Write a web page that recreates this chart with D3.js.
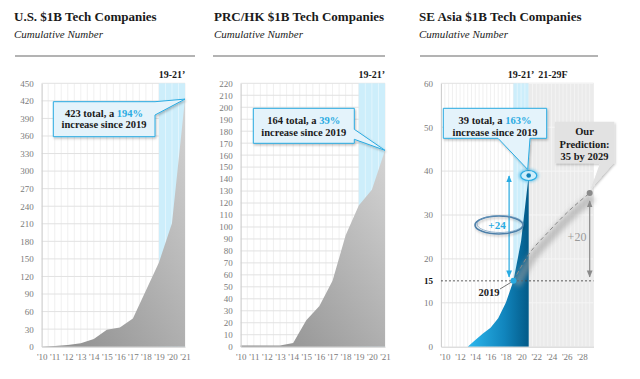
<!DOCTYPE html>
<html><head><meta charset="utf-8">
<script src="https://cdn.jsdelivr.net/npm/d3@7"></script>
<style>
html,body{margin:0;padding:0;background:#fff;}
text{font-family:"Liberation Serif","Times New Roman",serif;}
</style></head>
<body>
<svg id="c" width="640" height="379"></svg>
<script>
// ---------------- DATA ----------------
const years = [2010,2011,2012,2013,2014,2015,2016,2017,2018,2019,2020,2021];
const usValues  = [0,1,3,6,13,29,33,48,96,144,211,423];
const prcValues = [1,1,1,1,3,22,34,55,93,118,131,164];
const seaYears  = [2013,2014,2015,2016,2017,2018,2019,2020,2021];
const seaValues = [0,1.5,3,4.3,6.5,10,15,24,39];
const forecastYears  = [2019,2021,2023.5,2026,2029];
const forecastValues = [15,21,26,30.5,35];
const usTicks  = [0,30,60,90,120,150,180,210,240,270,300,330,360,390,420,450];
const prcTicks = [0,10,20,30,40,50,60,70,80,90,100,110,120,130,140,150,160,170,180,190,200,210,220];
const seaTicks = [0,10,20,30,40,50,60];
const seaXTicks = [2010,2012,2014,2016,2018,2020,2022,2024,2026,2028];
const titles = ["U.S. $1B Tech Companies","PRC/HK $1B Tech Companies","SE Asia $1B Tech Companies"];
const subtitle = "Cumulative Number";
const callouts = [
  {total:"423 total, a ", pct:"194%", line2:"increase since 2019"},
  {total:"164 total, a ", pct:"39%",  line2:"increase since 2019"},
  {total:"39 total, a ",  pct:"163%", line2:"increase since 2019"}
];
const prediction = ["Our","Prediction:","35 by 2029"];
const bandLabel = "19-21\u2019";
const forecastLabel = "21-29F";

// ---------------- SETUP ----------------
const svg = d3.select("#c");
const defs = svg.append("defs");
const BLUE = "#29abe2";

const gGray = defs.append("linearGradient").attr("id","gGray").attr("x1",0).attr("y1",1).attr("x2",1).attr("y2",0);
gGray.append("stop").attr("offset","0%").attr("stop-color","#8a8a8a");
gGray.append("stop").attr("offset","100%").attr("stop-color","#d4d4d4");
const gBlue = defs.append("linearGradient").attr("id","gBlue").attr("x1",0).attr("y1",0).attr("x2",1).attr("y2",0);
gBlue.append("stop").attr("offset","0%").attr("stop-color","#2cb8ee");
gBlue.append("stop").attr("offset","60%").attr("stop-color","#1185bd");
gBlue.append("stop").attr("offset","100%").attr("stop-color","#035a88");
const sh = defs.append("filter").attr("id","shadow").attr("x","-20%").attr("y","-20%").attr("width","140%").attr("height","160%");
sh.append("feDropShadow").attr("dx",1).attr("dy",1.5).attr("stdDeviation",1.2).attr("flood-color","#000").attr("flood-opacity",0.25);
const bl = defs.append("filter").attr("id","blur").attr("x","-50%").attr("y","-50%").attr("width","200%").attr("height","200%");
bl.append("feGaussianBlur").attr("stdDeviation",2.5);
const bl2 = defs.append("filter").attr("id","glow").attr("x","-80%").attr("y","-80%").attr("width","260%").attr("height","260%");
bl2.append("feGaussianBlur").attr("stdDeviation",1.5);

function marker(id,color){
  defs.append("marker").attr("id",id).attr("viewBox","0 0 10 10").attr("refX",9).attr("refY",5)
    .attr("markerWidth",6).attr("markerHeight",6).attr("orient","auto-start-reverse")
    .append("path").attr("d","M0,1 L10,5 L0,9 Z").attr("fill",color);
}
marker("arB",BLUE); marker("arG","#8a8a8a");

const TOP=83.3, BOT=346.7;

function header(x, lineX0, lineX1, title){
  svg.append("text").attr("x",x).attr("y",21).attr("font-size",13).attr("font-weight","bold").attr("fill","#1a1a1a").text(title);
  svg.append("text").attr("x",x).attr("y",38).attr("font-size",11).attr("font-style","italic").attr("fill","#222").text(subtitle);
  svg.append("line").attr("x1",lineX0).attr("x2",lineX1).attr("y1",56).attr("y2",56).attr("stroke","#9a9a9a").attr("stroke-width",1.5);
}

function grid(g, x, y, xDomain, yTicks, step){
  const [a,b] = xDomain;
  const vx = d3.range(Math.ceil(a/step)*step, b+1e-9, step);
  g.append("g").selectAll("line").data(vx).join("line")
    .attr("x1",d=>x(d)).attr("x2",d=>x(d)).attr("y1",y.range()[1]).attr("y2",y.range()[0])
    .attr("stroke","#ececec").attr("stroke-width",0.8);
  g.append("g").selectAll("line").data(yTicks).join("line")
    .attr("x1",x.range()[0]).attr("x2",x.range()[1]).attr("y1",d=>y(d)).attr("y2",d=>y(d))
    .attr("stroke","#e2e2e2").attr("stroke-width",1);
  return vx;
}
function bandRect(g,x,y,x0,x1,fill,step){
  g.append("rect").attr("x",x(x0)).attr("y",y.range()[1]).attr("width",x(x1)-x(x0)).attr("height",y.range()[0]-y.range()[1]).attr("fill",fill);
  const vx = d3.range(x0+step, x1-1e-9, step);
  g.append("g").selectAll("line").data(vx).join("line")
    .attr("x1",d=>x(d)).attr("x2",d=>x(d)).attr("y1",y.range()[1]).attr("y2",y.range()[0])
    .attr("stroke","#fff").attr("stroke-opacity",0.55).attr("stroke-width",0.8);
}
function yAxis(g,x,y,ticks){
  const ax = d3.axisLeft(y).tickValues(ticks).tickSize(0).tickPadding(8);
  const a = g.append("g").attr("transform",`translate(${x.range()[0]},0)`).call(ax);
  a.attr("font-family",null);
  a.select(".domain").attr("stroke","#cfcfcf");
  a.selectAll("text").attr("font-size",9).attr("fill","#7a7a7a");
  return a;
}
function xAxis(g,x,y,ticks){
  const ax = d3.axisBottom(x).tickValues(ticks).tickSize(0).tickPadding(7).tickFormat(d=>"'"+String(d).slice(2));
  const a = g.append("g").attr("transform",`translate(0,${y.range()[0]})`).call(ax);
  a.attr("font-family",null);
  a.select(".domain").attr("stroke","#cfcfcf");
  a.selectAll("text").attr("font-size",9).attr("fill","#7a7a7a");
}
function calloutText(g,cx,y1,y2,c){
  const t = g.append("text").attr("x",cx).attr("y",y1).attr("text-anchor","middle").attr("font-size",10.5).attr("font-weight","bold").attr("fill","#1a1a1a");
  t.append("tspan").text(c.total);
  t.append("tspan").attr("fill",BLUE).text(c.pct);
  g.append("text").attr("x",cx).attr("y",y2).attr("text-anchor","middle").attr("font-size",10.5).attr("font-weight","bold").attr("fill","#1a1a1a").text(c.line2);
}
const areaGen = (x,y)=>d3.area().x(d=>x(d[0])).y0(BOT).y1(d=>y(d[1])).curve(d3.curveLinear);

// ---------------- PANEL 1: US ----------------
{
  header(14,15,195,titles[0]);
  const g = svg.append("g");
  const x = d3.scaleLinear().domain([2010,2021]).range([41.7,185]);
  const y = d3.scaleLinear().domain([0,450]).range([BOT,TOP]);
  grid(g,x,y,[2010,2021],usTicks,0.5);
  bandRect(g,x,y,2019,2021,"#cdeefb",0.5);
  g.append("path").datum(years.map((d,i)=>[d,usValues[i]])).attr("d",areaGen(x,y)).attr("fill","url(#gGray)");
  yAxis(g,x,y,usTicks);
  xAxis(g,x,y,years);
  g.append("text").attr("x",(x(2019)+x(2021))/2).attr("y",78).attr("text-anchor","middle").attr("font-size",10).attr("font-weight","bold").attr("fill","#1a1a1a").text(bandLabel);
  const tip=[x(2021),y(usValues[usValues.length-1])];
  g.append("path").attr("d",`M53.3,101.7 L155,101.7 L${tip[0]},${tip[1]} L155,115 L155,136.7 L53.3,136.7 Z`)
    .attr("fill","#e4f3fb").attr("stroke",BLUE).attr("stroke-width",1).attr("filter","url(#shadow)");
  calloutText(g,104,116.5,128,callouts[0]);
}

// ---------------- PANEL 2: PRC/HK ----------------
{
  header(214,213,385,titles[1]);
  const g = svg.append("g");
  const x = d3.scaleLinear().domain([2010,2021]).range([240.7,385]);
  const y = d3.scaleLinear().domain([0,220]).range([BOT,TOP]);
  grid(g,x,y,[2010,2021],prcTicks,0.5);
  bandRect(g,x,y,2019,2021,"#cdeefb",0.5);
  g.append("path").datum(years.map((d,i)=>[d,prcValues[i]])).attr("d",areaGen(x,y)).attr("fill","url(#gGray)");
  yAxis(g,x,y,prcTicks);
  xAxis(g,x,y,years);
  g.append("text").attr("x",(x(2019)+x(2021))/2).attr("y",78).attr("text-anchor","middle").attr("font-size",10).attr("font-weight","bold").attr("fill","#1a1a1a").text(bandLabel);
  const tip=[x(2021),y(prcValues[prcValues.length-1])];
  g.append("path").attr("d",`M253.3,108.3 L354.3,108.3 L354.3,129.3 L${tip[0]},${tip[1]} L354.3,139.3 L354.3,143.3 L253.3,143.3 Z`)
    .attr("fill","#e4f3fb").attr("stroke",BLUE).attr("stroke-width",1).attr("filter","url(#shadow)");
  calloutText(g,303.8,123.5,135.5,callouts[1]);
}

// ---------------- PANEL 3: SE Asia ----------------
{
  header(419,420,598,titles[2]);
  const g = svg.append("g");
  const x = d3.scaleLinear().domain([2009.5,2029.5]).range([441,593.5]);
  const y = d3.scaleLinear().domain([0,60]).range([BOT,TOP]);
  grid(g,x,y,[2009.5,2029.5],seaTicks.filter(d=>d>0),0.5);
  bandRect(g,x,y,2019,2021,"#cdeefb",0.5);
  bandRect(g,x,y,2021,2029.5,"#ebebeb",0.5);
  g.append("g").selectAll("line").data(seaTicks.filter(d=>d>0)).join("line")
    .attr("x1",x(2021)).attr("x2",x(2029.5)).attr("y1",d=>y(d)).attr("y2",d=>y(d))
    .attr("stroke","#f6f6f6").attr("stroke-width",1);
  g.append("path").datum(seaYears.map((d,i)=>[d,seaValues[i]])).attr("d",areaGen(x,y)).attr("fill","url(#gBlue)");
  yAxis(g,x,y,seaTicks);
  g.append("text").attr("x",x.range()[0]-8).attr("y",y(15)+3.2).attr("text-anchor","end").attr("font-size",9).attr("font-weight","bold").attr("fill","#111").text("15");
  xAxis(g,x,y,seaXTicks);
  g.append("line").attr("x1",x.range()[0]).attr("x2",x.range()[1]).attr("y1",y(15)).attr("y2",y(15))
    .attr("stroke","#333").attr("stroke-width",0.8).attr("stroke-dasharray","2,2");
  const fl = d3.line().x(d=>x(d[0])).y(d=>y(d[1])).curve(d3.curveMonotoneX);
  const fdata = forecastYears.map((d,i)=>[d,forecastValues[i]]);
  g.append("path").datum(fdata).attr("d",fl).attr("fill","none").attr("stroke","#9a9a9a").attr("stroke-opacity",0.55)
    .attr("stroke-width",9).attr("transform","translate(3,4)").attr("filter","url(#blur)");
  g.append("path").datum(fdata).attr("d",fl).attr("fill","none").attr("stroke","#8a8a8a").attr("stroke-width",1).attr("stroke-dasharray","4,3");
  g.append("circle").attr("cx",x(2029)).attr("cy",y(35)).attr("r",3).attr("fill","#8a8a8a");
  g.append("text").attr("x",(x(2019)+x(2021))/2).attr("y",78).attr("text-anchor","middle").attr("font-size",10).attr("font-weight","bold").attr("fill","#1a1a1a").text(bandLabel);
  g.append("text").attr("x",553).attr("y",78).attr("text-anchor","middle").attr("font-size",10).attr("font-weight","bold").attr("fill","#1a1a1a").text(forecastLabel);
  g.append("line").attr("x1",x(2018.43)).attr("x2",x(2018.43)).attr("y1",y(15.9)).attr("y2",y(38.9))
    .attr("stroke",BLUE).attr("stroke-width",1.2).attr("marker-start","url(#arB)").attr("marker-end","url(#arB)");
  g.append("line").attr("x1",x(2029)).attr("x2",x(2029)).attr("y1",y(33.2)).attr("y2",y(15.9))
    .attr("stroke","#8a8a8a").attr("stroke-width",1.2).attr("marker-start","url(#arG)").attr("marker-end","url(#arG)");
  g.append("text").attr("x",577).attr("y",241).attr("text-anchor","middle").attr("font-size",12).attr("fill","#9a9a9a").text("+20");
  g.append("ellipse").attr("cx",499).attr("cy",225).attr("rx",24).attr("ry",9).attr("fill","none")
    .attr("stroke","#4d7fa8").attr("stroke-width",1.6).attr("filter","url(#shadow)");
  g.append("ellipse").attr("cx",500).attr("cy",224).attr("rx",23).attr("ry",8.5).attr("fill","none")
    .attr("stroke","#6b98bd").attr("stroke-width",0.7);
  g.append("text").attr("x",497).attr("y",229).attr("text-anchor","middle").attr("font-size",11).attr("font-weight","bold").attr("fill",BLUE).text("+24");
  g.append("line").attr("x1",500).attr("y1",289).attr("x2",x(2019)).attr("y2",y(15)).attr("stroke","#555").attr("stroke-width",0.8);
  g.append("circle").attr("cx",x(2019)).attr("cy",y(15)).attr("r",3).attr("fill",BLUE);
  g.append("text").attr("x",489).attr("y",296).attr("text-anchor","middle").attr("font-size",10.5).attr("font-weight","bold").attr("fill","#1a1a1a").text("2019");
  const px=x(2021), py=y(39);
  g.append("ellipse").attr("cx",px).attr("cy",py).attr("rx",10).attr("ry",6.5).attr("fill",BLUE).attr("opacity",0.6).attr("filter","url(#glow)");
  g.append("ellipse").attr("cx",px).attr("cy",py).attr("rx",8).attr("ry",5).attr("fill","#cdeefb").attr("stroke",BLUE).attr("stroke-width",1.2);
  g.append("circle").attr("cx",px).attr("cy",py).attr("r",2.3).attr("fill","#0f7fb8");
  g.append("path").attr("d",`M443.3,108.3 L546.7,108.3 L546.7,138.3 L530,138.3 L${px-1},${py-6} L498,138.3 L443.3,138.3 Z`)
    .attr("fill","#e4f3fb").attr("stroke",BLUE).attr("stroke-width",1).attr("filter","url(#shadow)");
  calloutText(g,495,124,135.8,callouts[2]);
  g.append("path").attr("d",`M555,121.7 L614.3,121.7 L614.3,163.3 L613.3,163.3 L${x(2029)+1},${y(35)-4} L600,163.3 L555,163.3 Z`)
    .attr("fill","#e2e2e2").attr("filter","url(#shadow)");
  prediction.forEach((s,i)=>{
    g.append("text").attr("x",584.5).attr("y",135+i*12.5).attr("text-anchor","middle").attr("font-size",10.5).attr("font-weight","bold").attr("fill","#1a1a1a").text(s);
  });
}
</script>
</body></html>
